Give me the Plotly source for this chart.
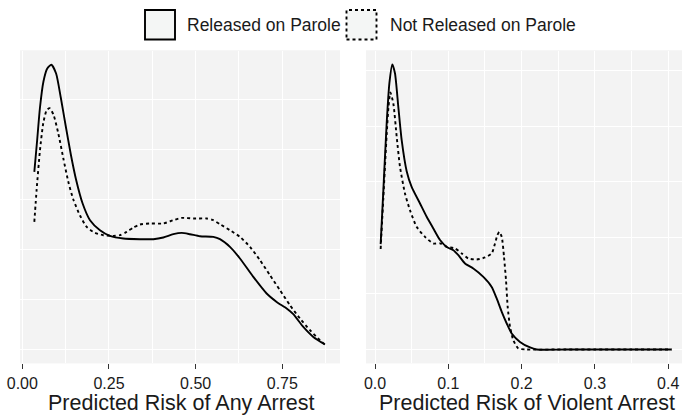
import plotly.graph_objects as go
from plotly.subplots import make_subplots

# ---- data ----
legend_labels = ["Released on Parole", "Not Released on Parole"]
x_titles = ["Predicted Risk of Any Arrest", "Predicted Risk of Violent Arrest"]

any_x_released = [0.0347, 0.0430, 0.0510, 0.0610, 0.0720, 0.0838, 0.0975, 0.1110, 0.1250,
                  0.1400, 0.1550, 0.1740, 0.1953, 0.2241, 0.2530, 0.2914, 0.3395, 0.3780,
                  0.4068, 0.4356, 0.4597, 0.4837, 0.5125, 0.5510, 0.5702, 0.5990, 0.6279,
                  0.6664, 0.7048, 0.7337, 0.7625, 0.7817, 0.8106, 0.8394, 0.8731]
any_y_released = [1.776, 2.100, 2.420, 2.680, 2.810, 2.848, 2.760, 2.520, 2.240,
                  1.950, 1.700, 1.460, 1.293, 1.193, 1.136, 1.110, 1.103, 1.103,
                  1.120, 1.153, 1.166, 1.153, 1.133, 1.126, 1.103, 1.026, 0.910,
                  0.726, 0.560, 0.476, 0.410, 0.353, 0.226, 0.126, 0.050]

any_x_not = [0.0347, 0.0414, 0.0510, 0.0607, 0.0703, 0.0790, 0.0905, 0.1039, 0.1184,
             0.1328, 0.1472, 0.1664, 0.1857, 0.2097, 0.2337, 0.2626, 0.2818, 0.3010,
             0.3203, 0.3395, 0.3683, 0.4068, 0.4356, 0.4597, 0.4933, 0.5318, 0.5510,
             0.5702, 0.5990, 0.6279, 0.6568, 0.6856, 0.7144, 0.7433, 0.7721, 0.8010,
             0.8298, 0.8587, 0.8731]
any_y_not = [1.276, 1.600, 1.993, 2.268, 2.393, 2.413, 2.343, 2.160, 1.910,
             1.676, 1.500, 1.340, 1.226, 1.166, 1.143, 1.136, 1.143, 1.176,
             1.220, 1.250, 1.260, 1.260, 1.293, 1.316, 1.310, 1.310, 1.293,
             1.253, 1.193, 1.126, 1.026, 0.893, 0.743, 0.593, 0.443, 0.310,
             0.193, 0.093, 0.050]

viol_x_released = [0.0077, 0.0114, 0.0159, 0.0196, 0.0236, 0.0273, 0.0318, 0.0364, 0.0432,
                   0.0500, 0.0614, 0.0705, 0.0796, 0.0887, 0.0990, 0.1069, 0.1137, 0.1228,
                   0.1341, 0.1478, 0.1592, 0.1660, 0.1729, 0.1797, 0.1865, 0.1978, 0.2115,
                   0.2206, 0.2600, 0.3000, 0.3500, 0.4047]
viol_y_released = [4.713, 7.130, 10.114, 11.905, 12.755, 12.352, 10.860, 9.368, 7.980,
                   7.279, 6.534, 5.937, 5.415, 4.900, 4.560, 4.445, 4.221, 3.849,
                   3.626, 3.250, 2.802, 2.283, 1.683, 1.164, 0.716, 0.340, 0.090,
                   0.0, 0.0, 0.0, 0.0, 0.0]

viol_x_not = [0.0077, 0.0114, 0.0159, 0.0185, 0.0210, 0.0250, 0.0296, 0.0341, 0.0409,
              0.0477, 0.0568, 0.0682, 0.0796, 0.0887, 0.0978, 0.1091, 0.1183, 0.1273,
              0.1387, 0.1501, 0.1592, 0.1637, 0.1669, 0.1696, 0.1729, 0.1760, 0.1787,
              0.1810, 0.1842, 0.1887, 0.1955, 0.2070, 0.2600, 0.3000, 0.3500, 0.4047]
viol_y_not = [4.500, 6.800, 9.600, 10.900, 11.500, 11.010, 9.517, 8.175, 6.981,
              6.235, 5.489, 5.041, 4.743, 4.750, 4.592, 4.521, 4.297, 4.073,
              4.028, 4.118, 4.297, 4.745, 5.116, 5.264, 5.040, 4.145, 3.102,
              1.907, 1.012, 0.416, 0.045, 0.0, 0.0, 0.0, 0.0, 0.0]

any_ticks = [0.0, 0.25, 0.5, 0.75]
viol_ticks = [0.0, 0.1, 0.2, 0.3, 0.4]

# ---- figure ----
W, H = 682, 417
FONT = "Liberation Sans, Arial, Helvetica, sans-serif"
INK = "#1a1a1a"
PANEL = "#F3F3F3"

fig = make_subplots(rows=1, cols=2)

line_solid = dict(color="black", width=1.9, shape="spline", smoothing=0.6)
line_dot = dict(color="black", width=1.9, dash="3px,3px", shape="spline", smoothing=0.6)

fig.add_trace(go.Scatter(x=any_x_not, y=any_y_not, mode="lines", line=line_dot,
                         name=legend_labels[1], showlegend=False), row=1, col=1)
fig.add_trace(go.Scatter(x=any_x_released, y=any_y_released, mode="lines", line=line_solid,
                         name=legend_labels[0], showlegend=False), row=1, col=1)
fig.add_trace(go.Scatter(x=viol_x_not, y=viol_y_not, mode="lines", line=line_dot,
                         name=legend_labels[1], showlegend=False), row=1, col=2)
fig.add_trace(go.Scatter(x=viol_x_released, y=viol_y_released, mode="lines", line=line_solid,
                         name=legend_labels[0], showlegend=False), row=1, col=2)

def px_x(p):
    return p / W

def px_y(p):
    return 1 - p / H

ydom = [px_y(363.3), px_y(50.5)]

common_x = dict(showgrid=True, gridcolor="white", gridwidth=1.2, zeroline=False,
                ticks="outside", ticklen=5, tickwidth=1.2, tickcolor="#333333",
                tickfont=dict(family=FONT, size=16, color=INK), showline=False,
                automargin=False)
common_y = dict(showgrid=True, gridcolor="white", gridwidth=1.2, zeroline=False,
                showticklabels=False, ticks="", showline=False, automargin=False)

fig.update_xaxes(domain=[px_x(20), px_x(340)], range=[-0.00663, 0.9164],
                 tickvals=any_ticks, ticktext=[f"{v:.2f}" for v in any_ticks],
                 minor=dict(tickvals=[0.125, 0.375, 0.625, 0.875], showgrid=True,
                            gridcolor="white", gridwidth=0.6, ticks=""),
                 row=1, col=1, **common_x)
fig.update_xaxes(domain=[px_x(366), 1.0], range=[-0.01228, 0.4188],
                 tickvals=viol_ticks, ticktext=[f"{v:.1f}" for v in viol_ticks],
                 minor=dict(tickvals=[0.05, 0.15, 0.25, 0.35], showgrid=True,
                            gridcolor="white", gridwidth=0.6, ticks=""),
                 row=1, col=2, **common_x)
fig.update_yaxes(domain=ydom, range=[-0.138, 2.99], tickvals=[0, 1, 2],
                 minor=dict(tickvals=[0.5, 1.5, 2.5], showgrid=True,
                            gridcolor="white", gridwidth=0.6),
                 row=1, col=1, **common_y)
fig.update_yaxes(domain=ydom, range=[-0.618, 13.38], tickvals=[0, 5, 10],
                 minor=dict(tickvals=[2.5, 7.5, 12.5], showgrid=True,
                            gridcolor="white", gridwidth=0.6),
                 row=1, col=2, **common_y)

# panel backgrounds
shapes = []
for x0, x1 in [(20, 340), (366, 682)]:
    shapes.append(dict(type="rect", xref="paper", yref="paper", layer="below",
                       x0=px_x(x0), x1=px_x(x1), y0=ydom[0], y1=ydom[1],
                       fillcolor=PANEL, line=dict(width=0)))
# legend keys
shapes.append(dict(type="rect", xref="paper", yref="paper",
                   x0=px_x(145), x1=px_x(175), y0=px_y(39.5), y1=px_y(10),
                   fillcolor="#F4F6F5", line=dict(color="black", width=1.9)))
shapes.append(dict(type="rect", xref="paper", yref="paper",
                   x0=px_x(346.5), x1=px_x(376.5), y0=px_y(39.5), y1=px_y(10),
                   fillcolor="#F4F6F5", line=dict(color="black", width=1.9, dash="3px,3px")))

annotations = [
    dict(text=legend_labels[0], x=px_x(185), y=px_y(24.8), xref="paper", yref="paper",
         xanchor="left", yanchor="middle", showarrow=False,
         font=dict(family=FONT, size=17.5, color=INK)),
    dict(text=legend_labels[1], x=px_x(387.5), y=px_y(24.8), xref="paper", yref="paper",
         xanchor="left", yanchor="middle", showarrow=False,
         font=dict(family=FONT, size=17.5, color=INK)),
    dict(text=x_titles[0], x=px_x(180.5), y=px_y(402.5), xref="paper", yref="paper",
         xanchor="center", yanchor="middle", showarrow=False,
         font=dict(family=FONT, size=21.5, color=INK)),
    dict(text=x_titles[1], x=px_x(527), y=px_y(402.5), xref="paper", yref="paper",
         xanchor="center", yanchor="middle", showarrow=False,
         font=dict(family=FONT, size=21.5, color=INK)),
]

fig.update_layout(width=W, height=H, margin=dict(l=0, r=0, t=0, b=0),
                  paper_bgcolor="white", plot_bgcolor=PANEL,
                  shapes=shapes, annotations=annotations, showlegend=False,
                  font=dict(family=FONT, color=INK))

fig.write_html("out.html", config={"displayModeBar": False},
               post_script="document.body.style.margin='0';document.body.style.overflow='hidden';")
